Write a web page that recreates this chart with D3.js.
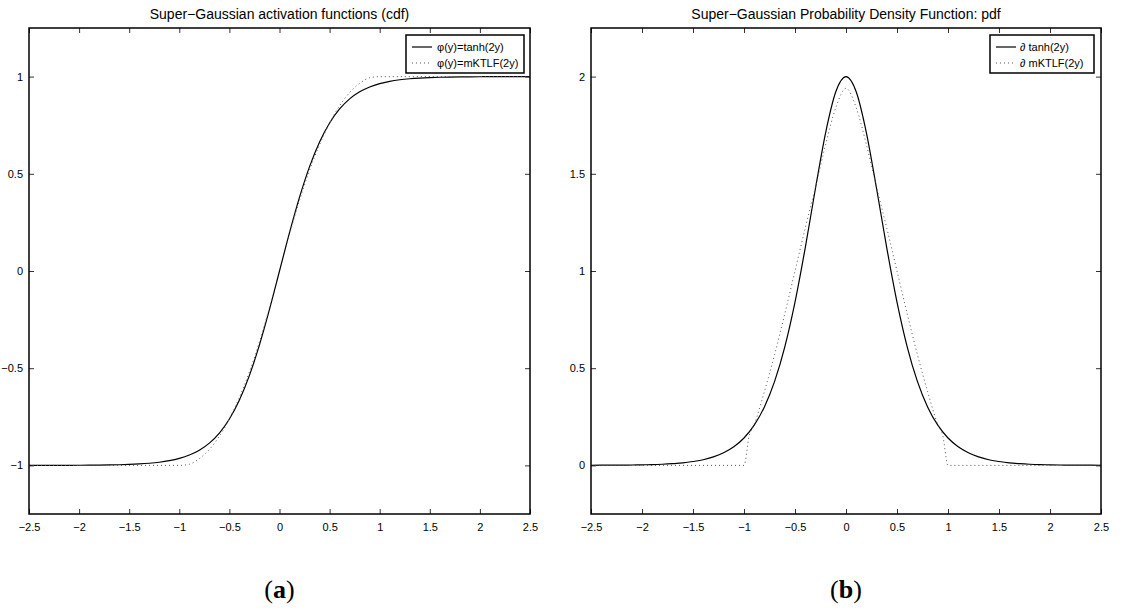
<!DOCTYPE html>
<html>
<head>
<meta charset="utf-8">
<script src="https://cdn.jsdelivr.net/npm/d3@7"></script>
<style>
  body { margin: 0; background: #fff; }
  .tickText { font-family: "Liberation Sans", Arial, sans-serif; font-size: 11px; fill: #000; }
  .title { font-family: "Liberation Sans", Arial, sans-serif; font-size: 14px; fill: #000; }
  .legendText { font-family: "Liberation Sans", Arial, sans-serif; font-size: 11px; fill: #000; }
  .subLabel { font-family: "Liberation Serif", "DejaVu Serif", serif; font-size: 26px; fill: #000; }
</style>
</head>
<body>
<div id="chart"></div>
<script>
// two panels: cdf (a) and pdf (b) of the super-gaussian activation

var xTicks = [-2.5, -2, -1.5, -1, -0.5, 0, 0.5, 1, 1.5, 2, 2.5];
var xTickLabels = ["\u22122.5", "\u22122", "\u22121.5", "\u22121", "\u22120.5", "0", "0.5", "1", "1.5", "2", "2.5"];
var cdfYTicks = [-1, -0.5, 0, 0.5, 1];
var cdfYTickLabels = ["\u22121", "\u22120.5", "0", "0.5", "1"];
var pdfYTicks = [0, 0.5, 1, 1.5, 2];
var pdfYTickLabels = ["0", "0.5", "1", "1.5", "2"];

var titles = ["Super\u2212Gaussian activation functions (cdf)", "Super\u2212Gaussian Probability Density Function: pdf"];
var cdfLegend = ["\u03c6(y)=tanh(2y)", "\u03c6(y)=mKTLF(2y)"];
var pdfLegend = ["\u2202 tanh(2y)", "\u2202 mKTLF(2y)"];
var subLabels = ["a", "b"];

var sampleX = [-2.5, -2.4, -2.3, -2.2, -2.1, -2.0, -1.9, -1.8, -1.7, -1.6, -1.5, -1.4, -1.3, -1.2, -1.1,
               -1.0, -0.9, -0.8, -0.7, -0.6, -0.5, -0.4, -0.3, -0.2, -0.1, 0,
               0.1, 0.2, 0.3, 0.4, 0.5, 0.6, 0.7, 0.8, 0.9, 1.0,
               1.1, 1.2, 1.3, 1.4, 1.5, 1.6, 1.7, 1.8, 1.9, 2.0, 2.1, 2.2, 2.3, 2.4, 2.5];

var tanhCdf = [-0.9999, -0.9998, -0.9997, -0.9996, -0.9995, -0.9993, -0.9990, -0.9985, -0.9978, -0.9967, -0.9951, -0.9926, -0.9890, -0.9837, -0.9757,
               -0.9640, -0.9468, -0.9217, -0.8854, -0.8337, -0.7616, -0.6640, -0.5370, -0.3799, -0.1974, 0,
               0.1974, 0.3799, 0.5370, 0.6640, 0.7616, 0.8337, 0.8854, 0.9217, 0.9468, 0.9640,
               0.9757, 0.9837, 0.9890, 0.9926, 0.9951, 0.9967, 0.9978, 0.9985, 0.9990, 0.9993, 0.9995, 0.9996, 0.9997, 0.9998, 0.9999];

var mktlfCdf = [-1, -1, -1, -1, -1, -1, -1, -1, -1, -1, -1, -1, -1, -1, -1,
                -1, -0.994, -0.965, -0.918, -0.850, -0.761, -0.650, -0.518, -0.364, -0.189, 0,
                0.189, 0.364, 0.518, 0.650, 0.761, 0.850, 0.918, 0.965, 0.994, 1,
                1, 1, 1, 1, 1, 1, 1, 1, 1, 1, 1, 1, 1, 1, 1];

var tanhPdf = [0.000, 0.001, 0.001, 0.001, 0.002, 0.003, 0.004, 0.006, 0.009, 0.013, 0.020, 0.029, 0.044, 0.065, 0.096,
               0.141, 0.207, 0.301, 0.432, 0.610, 0.840, 1.118, 1.423, 1.711, 1.922, 2.0,
               1.922, 1.711, 1.423, 1.118, 0.840, 0.610, 0.432, 0.301, 0.207, 0.141,
               0.096, 0.065, 0.044, 0.029, 0.020, 0.013, 0.009, 0.006, 0.004, 0.003, 0.002, 0.001, 0.001, 0.001, 0.000];

var mktlfPdfX = [-2.5, -2.0, -1.5, -1.0, -0.95, -0.9, -0.8, -0.7, -0.6, -0.5, -0.4, -0.3, -0.2, -0.1, 0,
                 0.1, 0.2, 0.3, 0.4, 0.5, 0.6, 0.7, 0.8, 0.9, 0.95, 1.0, 1.5, 2.0, 2.5];
var mktlfPdf = [0, 0, 0, 0, 0.15, 0.21, 0.38, 0.57, 0.78, 1.00, 1.22, 1.43, 1.65, 1.84, 1.94,
                1.84, 1.65, 1.43, 1.22, 1.00, 0.78, 0.57, 0.38, 0.21, 0.15, 0, 0, 0, 0];

var W = 1122, H = 614;
var frameTop = 28, frameBottom = 514;

var svg = d3.select("#chart").append("svg")
	.attr("width", W)
	.attr("height", H)
	.style("background", "#fff");

function zipXY(xs, ys){
	return xs.map(function(x, i){ return [x, ys[i]]; });
}

function drawPanel(opts){
	var x = d3.scaleLinear().domain([-2.5, 2.5]).range([opts.left, opts.right]);
	var y = d3.scaleLinear().domain(opts.yDomain).range([frameBottom, frameTop]);
	var g = svg.append("g");

	var line = d3.line()
		.x(function(d){ return x(d[0]); })
		.y(function(d){ return y(d[1]); })
		.curve(d3.curveMonotoneX);

	g.append("path")
		.datum(zipXY(opts.solid[0], opts.solid[1]))
		.attr("fill", "none")
		.attr("stroke", "#000")
		.attr("stroke-width", 1.2)
		.attr("d", line);

	g.append("path")
		.datum(zipXY(opts.dotted[0], opts.dotted[1]))
		.attr("fill", "none")
		.attr("stroke", "#555")
		.attr("stroke-width", 1)
		.attr("stroke-dasharray", "1,3")
		.attr("d", line);

	// inward ticks on all four sides, matlab style
	var bottom = g.append("g")
		.attr("transform", "translate(0," + frameBottom + ")")
		.call(d3.axisBottom(x).tickValues(xTicks).tickSize(-5).tickPadding(9)
			.tickFormat(function(d, i){ return xTickLabels[i]; }));
	var top = g.append("g")
		.attr("transform", "translate(0," + frameTop + ")")
		.call(d3.axisTop(x).tickValues(xTicks).tickSize(-5).tickFormat(""));
	var leftAx = g.append("g")
		.attr("transform", "translate(" + opts.left + ",0)")
		.call(d3.axisLeft(y).tickValues(opts.yTicks).tickSize(-5).tickPadding(6)
			.tickFormat(function(d, i){ return opts.yTickLabels[i]; }));
	var rightAx = g.append("g")
		.attr("transform", "translate(" + opts.right + ",0)")
		.call(d3.axisRight(y).tickValues(opts.yTicks).tickSize(-5).tickFormat(""));

	[bottom, top, leftAx, rightAx].forEach(function(a){
		a.select(".domain").remove();
		a.selectAll("line").attr("stroke", "#333").attr("stroke-width", 1);
		a.selectAll("text").attr("class", "tickText").attr("font-family", null).attr("font-size", null);
	});

	g.append("rect")
		.attr("x", opts.left)
		.attr("y", frameTop)
		.attr("width", opts.right - opts.left)
		.attr("height", frameBottom - frameTop)
		.attr("fill", "none")
		.attr("stroke", "#000")
		.attr("stroke-width", 1.5);

	g.append("text")
		.attr("class", "title")
		.attr("x", (opts.left + opts.right) / 2)
		.attr("y", 19)
		.attr("text-anchor", "middle")
		.text(opts.title);

	// legend box in the top right corner
	var lg = g.append("g").attr("transform", "translate(" + opts.legendX + ",35)");
	lg.append("rect")
		.attr("width", opts.legendW)
		.attr("height", 38)
		.attr("fill", "#fff")
		.attr("stroke", "#000")
		.attr("stroke-width", 1.5);
	opts.legend.forEach(function(label, i){
		var ly = 12 + i * 16;
		lg.append("line")
			.attr("x1", 6).attr("x2", 26)
			.attr("y1", ly).attr("y2", ly)
			.attr("stroke", i === 0 ? "#000" : "#555")
			.attr("stroke-width", i === 0 ? 1.2 : 1)
			.attr("stroke-dasharray", i === 0 ? null : "1,3");
		lg.append("text")
			.attr("class", "legendText")
			.attr("x", opts.legendTextX)
			.attr("y", ly + 4)
			.text(label);
	});

	var sub = svg.append("text")
		.attr("class", "subLabel")
		.attr("x", (opts.left + opts.right) / 2)
		.attr("y", 598)
		.attr("text-anchor", "middle");
	sub.append("tspan").text("(");
	sub.append("tspan").attr("font-weight", "bold").text(opts.sub);
	sub.append("tspan").text(")");
}

drawPanel({
	left: 29, right: 530,
	yDomain: [-1.25, 1.25],
	yTicks: cdfYTicks, yTickLabels: cdfYTickLabels,
	solid: [sampleX, tanhCdf],
	dotted: [sampleX, mktlfCdf],
	title: titles[0],
	legend: cdfLegend, legendX: 406, legendW: 118, legendTextX: 31,
	sub: subLabels[0]
});

drawPanel({
	left: 591, right: 1101,
	yDomain: [-0.25, 2.25],
	yTicks: pdfYTicks, yTickLabels: pdfYTickLabels,
	solid: [sampleX, tanhPdf],
	dotted: [mktlfPdfX, mktlfPdf],
	title: titles[1],
	legend: pdfLegend, legendX: 990, legendW: 104, legendTextX: 30,
	sub: subLabels[1]
});
</script>
</body>
</html>
